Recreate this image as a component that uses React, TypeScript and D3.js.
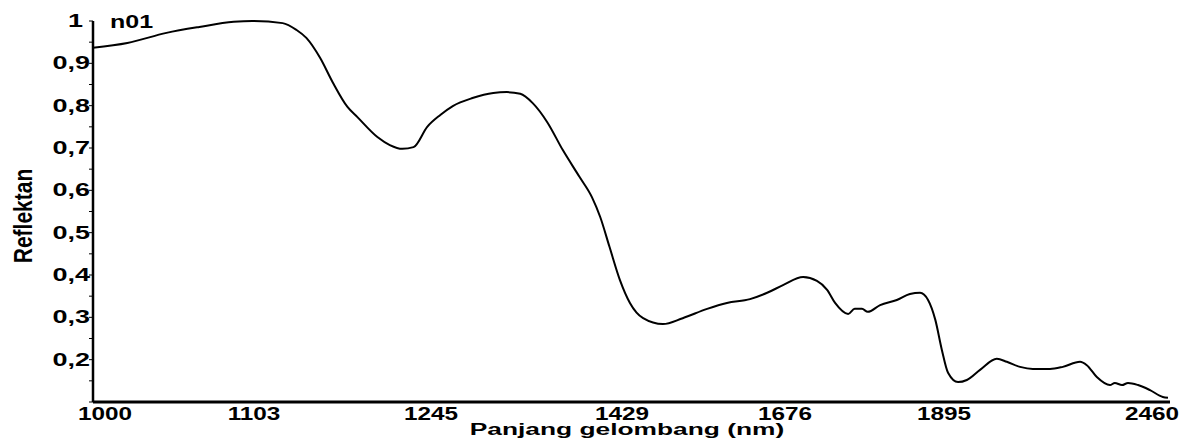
import React, { useEffect, useRef } from 'react';
import * as d3 from 'd3';

// spectrum n01
const wavelength = [
  1000, 1022, 1047, 1068, 1090, 1102, 1126, 1137, 1145, 1156, 1166, 1178, 1186, 1202, 1212, 1222,
  1231, 1242, 1254, 1266, 1285, 1305, 1318, 1331, 1343, 1357, 1372, 1388, 1400, 1408, 1417, 1427,
  1441, 1461, 1491, 1521, 1558, 1588, 1623, 1649, 1673, 1701, 1720, 1734, 1745, 1763, 1772, 1782,
  1790, 1807, 1830, 1848, 1862, 1873, 1883, 1892, 1905, 1930, 1952, 1985, 2027, 2052, 2085, 2117,
  2160, 2192, 2235, 2252, 2277, 2310, 2322, 2340, 2355, 2380, 2410, 2442, 2455,
];
const reflectance = [
  0.937, 0.948, 0.972, 0.986, 0.998, 1.0, 0.995, 0.979, 0.96, 0.913, 0.856, 0.797, 0.773, 0.726, 0.707, 0.698,
  0.702, 0.75, 0.778, 0.799, 0.818, 0.83, 0.832, 0.828, 0.806, 0.761, 0.695, 0.632, 0.584, 0.537, 0.466, 0.388,
  0.334, 0.298, 0.284, 0.298, 0.32, 0.334, 0.343, 0.358, 0.376, 0.395, 0.386, 0.365, 0.334, 0.308, 0.32, 0.32,
  0.313, 0.329, 0.341, 0.355, 0.358, 0.341, 0.294, 0.223, 0.169, 0.147, 0.152, 0.176, 0.202, 0.195, 0.183, 0.178,
  0.178, 0.183, 0.195, 0.187, 0.159, 0.14, 0.145, 0.14, 0.145, 0.14, 0.128, 0.112, 0.11,
];

const xTicks = [1000, 1103, 1245, 1429, 1676, 1895, 2460];
const yTicks = [0.2, 0.3, 0.4, 0.5, 0.6, 0.7, 0.8, 0.9, 1];
const yTickLabels = ['0,2', '0,3', '0,4', '0,5', '0,6', '0,7', '0,8', '0,9', '1'];

const W = 1188;
const H = 443;

const SpectrumChart = () => {
  const ref = useRef<SVGSVGElement>(null);

  useEffect(() => {
    const svg = d3.select(ref.current);
    svg.selectAll('*').remove();

    const margin = { top: 21, right: 18, bottom: 41, left: 93 };
    const left = margin.left;
    const right = W - margin.right;
    const bottom = H - margin.bottom;
    const w = right - left;

    // the instrument axis is not linear in nm, so map it piece by piece
    const tickFrac = [0, 0.1495, 0.3138, 0.4912, 0.6425, 0.7902, 1];
    const x = d3.scaleLinear().domain(xTicks).range(tickFrac.map((f) => left + f * w));
    const y = d3.scaleLinear().domain([0.1, 1]).range([bottom, margin.top]);

    const font = "'Liberation Sans', Arial, sans-serif";
    const g = svg.append('g');

    // y axis + ticks every 0.05
    g.append('line')
      .attr('x1', left).attr('x2', left)
      .attr('y1', y(1)).attr('y2', bottom)
      .attr('stroke', '#000').attr('stroke-width', 2.5);
    g.selectAll('.ytick')
      .data(d3.range(0.1, 1.001, 0.05))
      .join('line')
      .attr('x1', left - 4).attr('x2', left)
      .attr('y1', (d) => y(d)).attr('y2', (d) => y(d))
      .attr('stroke', '#000').attr('stroke-width', 1);

    // x axis
    g.append('line')
      .attr('x1', left).attr('x2', right)
      .attr('y1', bottom).attr('y2', bottom)
      .attr('stroke', '#000').attr('stroke-width', 3);

    // y tick labels
    g.selectAll('.ylab')
      .data(yTicks)
      .join('text')
      .attr('transform', (d) => `translate(${d === 1 ? 83 : 90},${y(d) + 6}) scale(1.5,1)`)
      .attr('text-anchor', 'end')
      .attr('font-family', font).attr('font-weight', 'bold').attr('font-size', 18)
      .text((d, i) => yTickLabels[i]);

    // x tick labels
    g.selectAll('.xlab')
      .data(xTicks)
      .join('text')
      .attr('transform', (d, i) => {
        let px = x(d);
        if (i === 0) px += 12;
        if (i === xTicks.length - 1) px -= 18;
        return `translate(${px},420) scale(1.28,1)`;
      })
      .attr('text-anchor', 'middle')
      .attr('font-family', font).attr('font-weight', 'bold').attr('font-size', 19)
      .text((d) => d);

    // titles
    g.append('text')
      .attr('transform', 'translate(627,435) scale(1.55,1)')
      .attr('text-anchor', 'middle')
      .attr('font-family', font).attr('font-weight', 'bold').attr('font-size', 17)
      .text('Panjang gelombang (nm)');

    g.append('text')
      .attr('transform', 'translate(32,216) scale(1.22,1) rotate(-90)')
      .attr('text-anchor', 'middle')
      .attr('font-family', font).attr('font-weight', 'bold').attr('font-size', 21)
      .text('Reflektan');

    g.append('text')
      .attr('transform', 'translate(110,28) scale(1.39,1)')
      .attr('font-family', font).attr('font-weight', 'bold').attr('font-size', 18)
      .text('n01');

    const line = d3.line<number>()
      .x((d, i) => x(wavelength[i]))
      .y((d) => y(d))
      .curve(d3.curveMonotoneX);

    g.append('path')
      .datum(reflectance)
      .attr('fill', 'none')
      .attr('stroke', '#000')
      .attr('stroke-width', 2)
      .attr('stroke-linejoin', 'round')
      .attr('d', line);
  }, []);

  return (
    <svg
      ref={ref}
      width={W}
      height={H}
      style={{ position: 'absolute', left: 0, top: 0, background: '#fff' }}
    />
  );
};

export default function App() {
  return <SpectrumChart />;
}
